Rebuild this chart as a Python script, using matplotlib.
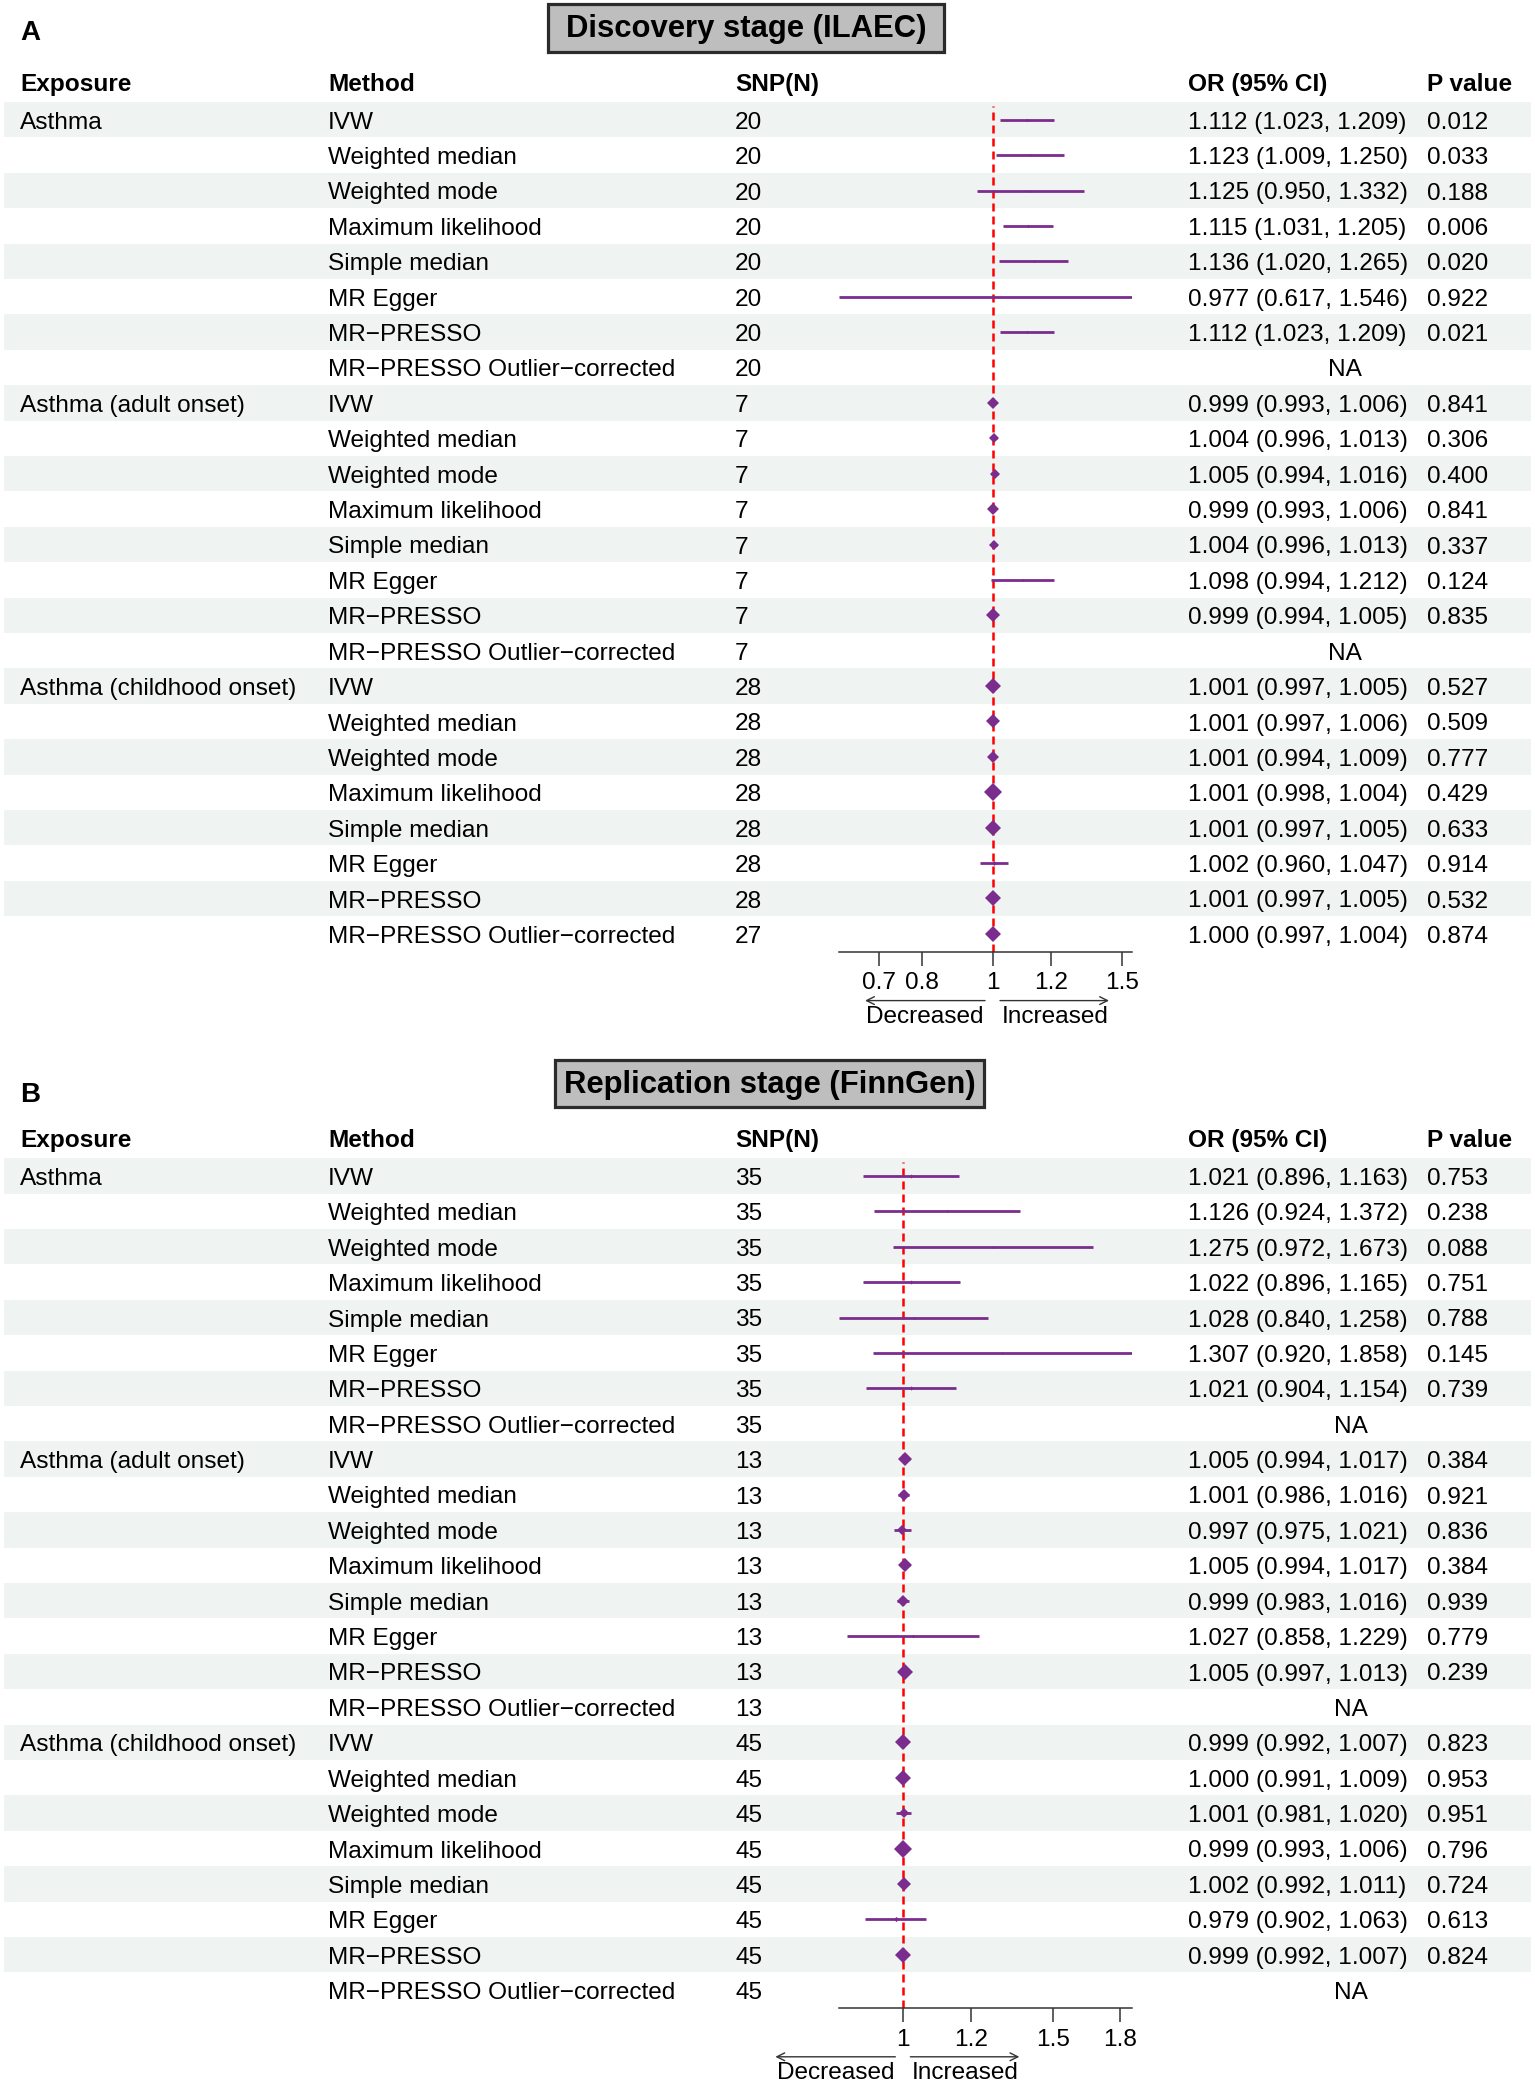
import matplotlib
matplotlib.use("Agg")
import matplotlib.pyplot as plt
import numpy as np
from matplotlib.patches import Rectangle
from matplotlib.ticker import NullLocator, FixedLocator, FixedFormatter

plt.rcParams['font.family'] = ['Liberation Sans', 'DejaVu Sans']

# ---------------- data ----------------
exposures = ["Asthma", "Asthma (adult onset)", "Asthma (childhood onset)"]
methods = ["IVW", "Weighted median", "Weighted mode", "Maximum likelihood",
           "Simple median", "MR Egger", "MR\u2212PRESSO", "MR\u2212PRESSO Outlier\u2212corrected"]
nan = np.nan

# Panel A: Discovery stage (ILAEC)
A_snp = [20, 20, 20, 20, 20, 20, 20, 20,
         7, 7, 7, 7, 7, 7, 7, 7,
         28, 28, 28, 28, 28, 28, 28, 27]
A_or = [1.112, 1.123, 1.125, 1.115, 1.136, 0.977, 1.112, nan,
        0.999, 1.004, 1.005, 0.999, 1.004, 1.098, 0.999, nan,
        1.001, 1.001, 1.001, 1.001, 1.001, 1.002, 1.001, 1.000]
A_lo = [1.023, 1.009, 0.950, 1.031, 1.020, 0.617, 1.023, nan,
        0.993, 0.996, 0.994, 0.993, 0.996, 0.994, 0.994, nan,
        0.997, 0.997, 0.994, 0.998, 0.997, 0.960, 0.997, 0.997]
A_hi = [1.209, 1.250, 1.332, 1.205, 1.265, 1.546, 1.209, nan,
        1.006, 1.013, 1.016, 1.006, 1.013, 1.212, 1.005, nan,
        1.005, 1.006, 1.009, 1.004, 1.005, 1.047, 1.005, 1.004]
A_p = [0.012, 0.033, 0.188, 0.006, 0.020, 0.922, 0.021, nan,
       0.841, 0.306, 0.400, 0.841, 0.337, 0.124, 0.835, nan,
       0.527, 0.509, 0.777, 0.429, 0.633, 0.914, 0.532, 0.874]
A_ticks = [0.7, 0.8, 1, 1.2, 1.5]
A_ticklabels = ["0.7", "0.8", "1", "1.2", "1.5"]

# Panel B: Replication stage (FinnGen)
B_snp = [35, 35, 35, 35, 35, 35, 35, 35,
         13, 13, 13, 13, 13, 13, 13, 13,
         45, 45, 45, 45, 45, 45, 45, 45]
B_or = [1.021, 1.126, 1.275, 1.022, 1.028, 1.307, 1.021, nan,
        1.005, 1.001, 0.997, 1.005, 0.999, 1.027, 1.005, nan,
        0.999, 1.000, 1.001, 0.999, 1.002, 0.979, 0.999, nan]
B_lo = [0.896, 0.924, 0.972, 0.896, 0.840, 0.920, 0.904, nan,
        0.994, 0.986, 0.975, 0.994, 0.983, 0.858, 0.997, nan,
        0.992, 0.991, 0.981, 0.993, 0.992, 0.902, 0.992, nan]
B_hi = [1.163, 1.372, 1.673, 1.165, 1.258, 1.858, 1.154, nan,
        1.017, 1.016, 1.021, 1.017, 1.016, 1.229, 1.013, nan,
        1.007, 1.009, 1.020, 1.006, 1.011, 1.063, 1.007, nan]
B_p = [0.753, 0.238, 0.088, 0.751, 0.788, 0.145, 0.739, nan,
       0.384, 0.921, 0.836, 0.384, 0.939, 0.779, 0.239, nan,
       0.823, 0.953, 0.951, 0.796, 0.724, 0.613, 0.824, nan]
B_ticks = [1, 1.2, 1.5, 1.8]
B_ticklabels = ["1", "1.2", "1.5", "1.8"]

headers = ["Exposure", "Method", "SNP(N)", "OR (95% CI)", "P value"]

# ---------------- layout ----------------
W, H = 1535, 2085
FS = 17.6
PURPLE = '#7B2D8E'
STRIPE = '#eff3f2'
col_x = [20, 328, 735, 1188, 1427]
forest_x = (839, 1132)
ROW_H = 35.4

fig = plt.figure(figsize=(W / 100, H / 100), dpi=100)
bg = fig.add_axes([0, 0, 1, 1])
bg.set_xlim(0, W)
bg.set_ylim(H, 0)
bg.axis('off')


def panel(label, label_y, title, box, y0, snp, orv, lo, hi, pv, ticks, ticklabels, na_x):
    n = len(snp)
    # panel letter
    bg.text(20, label_y, label, fontsize=20, fontweight='bold', ha='left', va='center')
    # title box
    bx, by, bw, bh = box
    bg.add_patch(Rectangle((bx, by), bw, bh, fc='#BEBEBE', ec='#2b2b2b', lw=2.3, zorder=2))
    bg.text(bx + bw / 2, by + bh / 2 + 1, title, fontsize=22.3, fontweight='bold',
            ha='center', va='center', zorder=3)
    # header
    hy = y0 - 38
    for x, t in zip(col_x, headers):
        bg.text(x, hy + 9.5, t, fontsize=FS, fontweight='bold', ha='left', va='baseline')
    # stripes and rows
    for i in range(n):
        yc = y0 + i * ROW_H
        if i % 2 == 0:
            bg.add_patch(Rectangle((4, yc - ROW_H / 2), 1527, ROW_H, fc=STRIPE, ec='none', zorder=0))
        g, m = divmod(i, len(methods))
        yb = yc + 9.0
        if m == 0:
            bg.text(col_x[0], yb, exposures[g], fontsize=FS, ha='left', va='baseline')
        bg.text(col_x[1], yb, methods[m], fontsize=FS, ha='left', va='baseline')
        bg.text(col_x[2], yb, str(snp[i]), fontsize=FS, ha='left', va='baseline')
        if np.isnan(orv[i]):
            bg.text(na_x, yb, "NA", fontsize=FS, ha='center', va='baseline')
        else:
            bg.text(col_x[3], yb, f"{orv[i]:.3f} ({lo[i]:.3f}, {hi[i]:.3f})",
                    fontsize=FS, ha='left', va='baseline')
            bg.text(col_x[4], yb, f"{pv[i]:.3f}", fontsize=FS, ha='left', va='baseline')

    # forest axes
    top = y0 - ROW_H / 2
    bottom = y0 + (n - 0.5) * ROW_H
    ax = fig.add_axes([forest_x[0] / W, 1 - bottom / H,
                       (forest_x[1] - forest_x[0]) / W, (bottom - top) / H])
    ax.patch.set_alpha(0)
    ax.set_xscale('log')
    lo_a = np.array(lo, dtype=float)
    hi_a = np.array(hi, dtype=float)
    ax.set_xlim(np.nanmin(lo_a), np.nanmax(hi_a))
    ax.set_ylim(n - 0.5, -0.5)
    for s in ['top', 'left', 'right']:
        ax.spines[s].set_visible(False)
    ax.spines['bottom'].set_linewidth(1.1)
    ax.spines['bottom'].set_color('#333333')
    ax.set_yticks([])
    ax.xaxis.set_major_locator(FixedLocator(ticks))
    ax.xaxis.set_major_formatter(FixedFormatter(ticklabels))
    ax.xaxis.set_minor_locator(NullLocator())
    ax.tick_params(axis='x', length=10, width=1.1, color='#333333', pad=5,
                   labelsize=FS, direction='out')
    ax.axvline(1, ymax=0.995, color='red', lw=1.8, ls=(0, (3.2, 2.0)), zorder=1)
    se_all = (np.log(hi_a) - np.log(lo_a)) / 3.92
    se_min = np.nanmin(se_all)
    for i in range(n):
        if np.isnan(orv[i]):
            continue
        ax.plot([lo[i], hi[i]], [i, i], color=PURPLE, lw=2.0, solid_capstyle='butt', zorder=2)
        wpx = 18.0 * np.sqrt(se_min / se_all[i])
        ms = wpx / (np.sqrt(2) * 100 / 72)
        ax.plot([orv[i]], [i], marker='D', ms=ms, color=PURPLE, mew=0, zorder=3)

    # arrows under axis
    x1 = ax.transData.transform((1, 0))[0]
    ya = bottom + 49
    yt = bottom + 65
    arrow_kw = dict(arrowstyle='->', lw=1.0, color='#333333', mutation_scale=14,
                    shrinkA=0, shrinkB=0)
    bg.annotate('', xy=(x1 - 128, ya), xytext=(x1 - 8, ya), arrowprops=arrow_kw)
    bg.annotate('', xy=(x1 + 116, ya), xytext=(x1 + 7, ya), arrowprops=arrow_kw)
    bg.text(x1 - 68, yt, "Decreased", fontsize=FS, ha='center', va='center')
    bg.text(x1 + 62, yt, "Increased", fontsize=FS, ha='center', va='center')


panel("A", 33, "Discovery stage (ILAEC)", (548, 4, 396, 48), 119.7,
      A_snp, A_or, A_lo, A_hi, A_p, A_ticks, A_ticklabels, 1345)
panel("B", 1095, "Replication stage (FinnGen)", (555, 1060, 429, 47), 1175.9,
      B_snp, B_or, B_lo, B_hi, B_p, B_ticks, B_ticklabels, 1351)

fig.savefig("out.png", dpi=100, facecolor='white')
